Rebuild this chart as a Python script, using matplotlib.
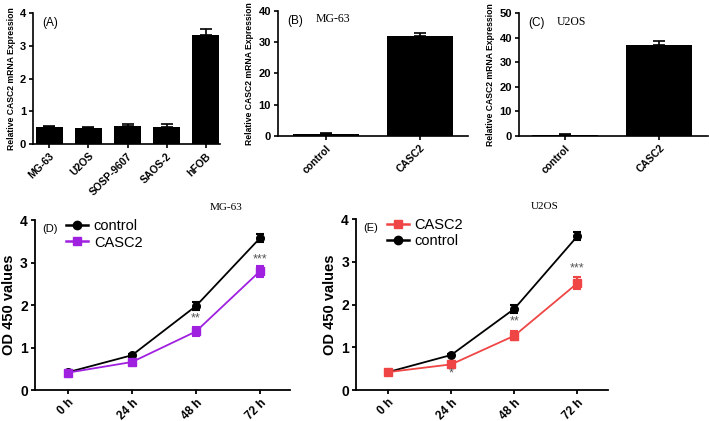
import numpy as np
import matplotlib
matplotlib.use("Agg")
import matplotlib.pyplot as plt
from matplotlib.lines import Line2D

plt.rcParams['font.family'] = ['Liberation Sans', 'DejaVu Sans']

# (A) expression in cell lines
lines_a = ['MG-63', 'U2OS', 'SOSP-9607', 'SAOS-2', 'hFOB']
expr_a = [0.52, 0.50, 0.55, 0.52, 3.33]
err_a = [0.03, 0.03, 0.06, 0.08, 0.17]

# (B) MG-63 transfection
groups_bc = ['control', 'CASC2']
expr_b = [0.6, 32.0]
err_b = [0.2, 0.8]

# (C) U2OS transfection
expr_c = [0.6, 37.0]
err_c = [0.2, 1.5]

# (D)/(E) CCK-8 curves
times = ['0 h', '24 h', '48 h', '72 h']
d_control = [0.42, 0.82, 1.98, 3.58]
d_control_err = [0.03, 0.03, 0.10, 0.10]
d_casc2 = [0.41, 0.66, 1.38, 2.80]
d_casc2_err = [0.03, 0.04, 0.11, 0.13]
d_stars = ['', '', '**', '***']

e_control = [0.42, 0.82, 1.90, 3.60]
e_control_err = [0.03, 0.03, 0.09, 0.09]
e_casc2 = [0.42, 0.60, 1.27, 2.50]
e_casc2_err = [0.03, 0.04, 0.11, 0.14]
e_stars = ['', '*', '**', '***']


def style_axes(ax, lw=1.2):
    for s in ['top', 'right']:
        ax.spines[s].set_visible(False)
    for s in ['left', 'bottom']:
        ax.spines[s].set_linewidth(lw)
    ax.tick_params(width=lw, length=3, pad=2)


def bar_panel(ax, labels, vals, errs, ymax, ystep, tag, title, xlim):
    x = np.arange(len(labels))
    ax.bar(x, vals, width=0.7, color='black')
    ax.errorbar(x, vals, yerr=[np.zeros(len(errs)), errs], fmt='none',
                ecolor='black', elinewidth=1.2, capsize=4, capthick=1.2)
    ax.set_ylim(0, ymax)
    ax.set_yticks(np.arange(0, ymax + 0.1, ystep))
    ax.set_xlim(*xlim)
    ax.set_xticks(x)
    style_axes(ax)
    ax.set_xticklabels(labels, rotation=45, ha='right', rotation_mode='anchor',
                       fontsize=7.5, fontweight='bold')
    for t in ax.get_yticklabels():
        t.set_fontsize(8)
        t.set_fontweight('bold')
    ax.set_ylabel('Relative CASC2 mRNA Expression', fontsize=6.2,
                  fontweight='bold', labelpad=3)
    ax.text(0.05, 0.97, tag, transform=ax.transAxes, fontsize=8.5,
            va='top', ha='left')
    if title:
        ax.text(0.2, 0.98, title, transform=ax.transAxes, fontsize=8.5,
                va='top', ha='left', family='Liberation Serif')


def line_panel(ax, series, stars, star_y, tag, title, xlim, legend_order):
    x = np.arange(len(times))
    handles = {}
    for name, vals, errs, color, marker in series:
        ax.errorbar(x, vals, yerr=errs, color=color, marker=marker,
                    markersize=5.5, lw=1.3, elinewidth=1.5, capsize=3,
                    capthick=1.5)
        handles[name] = Line2D([], [], color=color, marker=marker,
                               markersize=6, lw=1.8)
    for xi, s, y in zip(x, stars, star_y):
        if s:
            ax.text(xi, y, s, ha='center', va='center', fontsize=9,
                    color='#555555')
    ax.set_ylim(0, 4)
    ax.set_yticks([0, 1, 2, 3, 4])
    ax.set_xlim(*xlim)
    ax.set_xticks(x)
    style_axes(ax, 1.3)
    ax.set_xticklabels(times, rotation=45, ha='right', rotation_mode='anchor',
                       fontsize=8.5, fontweight='bold')
    for t in ax.get_yticklabels():
        t.set_fontsize(10)
        t.set_fontweight('bold')
    ax.set_ylabel('OD 450 values', fontsize=10.5, fontweight='bold',
                  labelpad=3)
    ax.text(0.03, 0.98, tag, transform=ax.transAxes, fontsize=8,
            va='top', ha='left')
    ax.text(0.75, 1.05, title, transform=ax.transAxes, fontsize=8,
            va='bottom', ha='center', family='Liberation Serif')
    ax.legend([handles[n] for n in legend_order], legend_order,
              loc='upper left', bbox_to_anchor=(0.1, 1.04), frameon=False,
              fontsize=10.5, handlelength=1.5, handletextpad=0.4,
              labelspacing=0.15, borderaxespad=0)


fig = plt.figure(figsize=(7.09, 4.21), dpi=100)

ax_a = fig.add_axes([0.0465, 0.658, 0.264, 0.311])
bar_panel(ax_a, lines_a, expr_a, err_a, 4, 1, '(A)', None, (-0.42, 4.37))

ax_b = fig.add_axes([0.392, 0.677, 0.268, 0.297])
bar_panel(ax_b, groups_bc, expr_b, err_b, 40, 10, '(B)', 'MG-63', (-0.51, 1.51))

ax_c = fig.add_axes([0.732, 0.677, 0.266, 0.292])
bar_panel(ax_c, groups_bc, expr_c, err_c, 50, 10, '(C)', 'U2OS', (-0.49, 1.51))

ax_d = fig.add_axes([0.049, 0.0736, 0.36, 0.403])
line_panel(ax_d,
           [('control', d_control, d_control_err, 'black', 'o'),
            ('CASC2', d_casc2, d_casc2_err, '#a020e0', 's')],
           d_stars, [0, 0, 1.68, 3.08], '(D)', 'MG-63', (-0.52, 3.47),
           ['control', 'CASC2'])

ax_e = fig.add_axes([0.502, 0.0736, 0.356, 0.406])
line_panel(ax_e,
           [('control', e_control, e_control_err, 'black', 'o'),
            ('CASC2', e_casc2, e_casc2_err, '#f04545', 's')],
           e_stars, [0, 0.38, 1.6, 2.85], '(E)', 'U2OS', (-0.51, 3.49),
           ['CASC2', 'control'])

fig.savefig('out.png', dpi=100)
